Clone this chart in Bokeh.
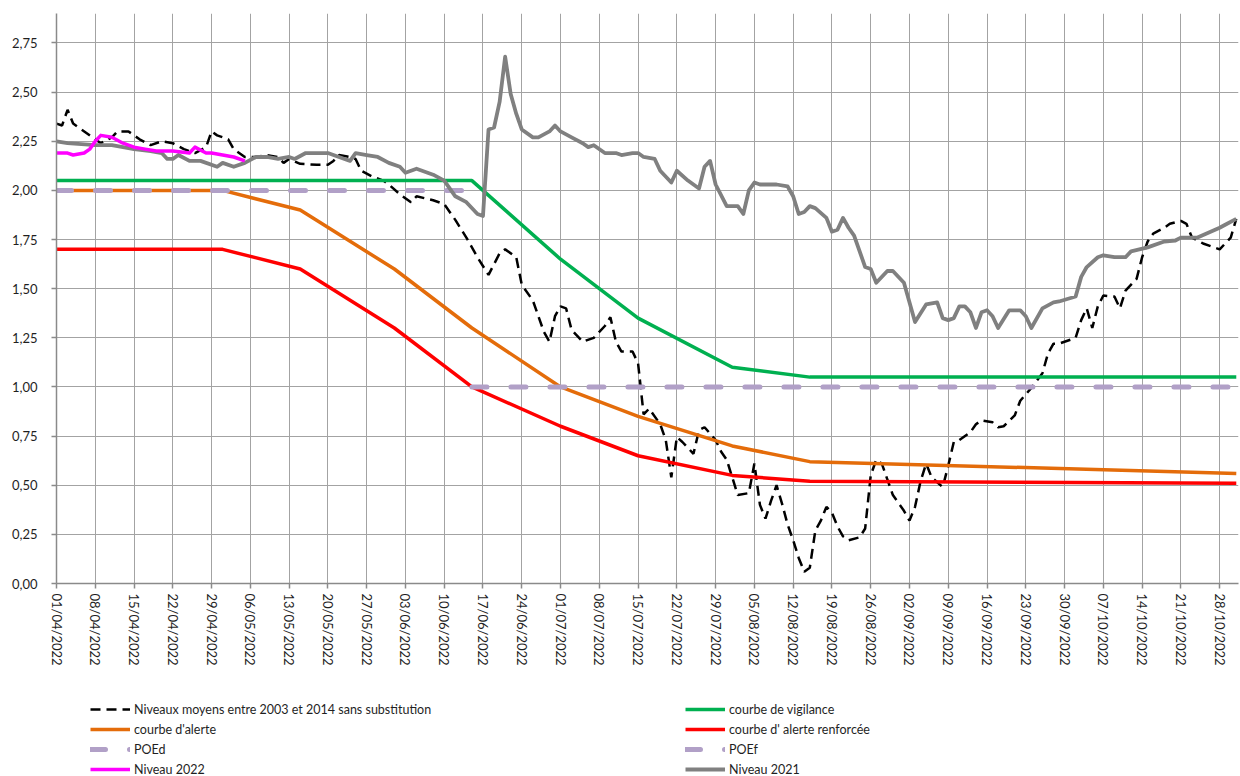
from bokeh.plotting import figure
from bokeh.layouts import column
from bokeh.models import FixedTicker, Legend, LegendItem, Range1d
from bokeh.embed import file_html
from bokeh.resources import INLINE

# ---------------- data (day index 0 = 01/04/2022) ----------------
tick_days = list(range(0, 211, 7))
tick_labels = ["01/04/2022", "08/04/2022", "15/04/2022", "22/04/2022", "29/04/2022",
               "06/05/2022", "13/05/2022", "20/05/2022", "27/05/2022", "03/06/2022",
               "10/06/2022", "17/06/2022", "24/06/2022", "01/07/2022", "08/07/2022",
               "15/07/2022", "22/07/2022", "29/07/2022", "05/08/2022", "12/08/2022",
               "19/08/2022", "26/08/2022", "02/09/2022", "09/09/2022", "16/09/2022",
               "23/09/2022", "30/09/2022", "07/10/2022", "14/10/2022", "21/10/2022",
               "28/10/2022"]
y_ticks = [0, 0.25, 0.5, 0.75, 1.0, 1.25, 1.5, 1.75, 2.0, 2.25, 2.5, 2.75]
y_tick_labels = ["0,00", "0,25", "0,50", "0,75", "1,00", "1,25", "1,50", "1,75",
                 "2,00", "2,25", "2,50", "2,75"]

# Niveaux moyens entre 2003 et 2014 sans substitution
avg_days = [0, 1, 2, 3, 4, 7, 8, 10, 11, 13, 15, 17, 19, 21, 23, 25, 27, 28, 29, 31,
            32, 34, 36, 38, 40, 41, 42, 44, 47, 49, 50, 51, 53, 54, 55, 57, 59, 60, 62, 64,
            65, 68, 70, 72, 74, 76, 78, 80, 81, 83, 84, 86, 88, 89, 90, 91, 92, 93, 95, 97,
            99, 100, 101, 102, 104, 105, 106, 107, 109, 110, 111, 112, 113, 114, 115, 116, 117, 119, 120, 121,
            122, 123, 125, 126, 127, 128, 129, 130, 131, 132, 133, 134, 135, 136, 137, 138, 139, 140, 141, 142,
            143, 145, 146, 147, 148, 149, 150, 151, 153, 154, 155, 156, 157, 158, 160, 161, 162, 163, 165, 166,
            167, 169, 170, 171, 173, 174, 176, 178, 179, 180, 181, 184, 185, 186, 187, 188, 189, 191, 192, 193,
            195, 196, 197, 198, 200, 201, 203, 204, 205, 207, 210, 211, 212, 213]
avg_vals = [2.34, 2.33, 2.41, 2.34, 2.32, 2.26, 2.24, 2.27, 2.30, 2.30, 2.26, 2.23, 2.25, 2.24, 2.21, 2.19, 2.22, 2.30, 2.28, 2.26,
            2.21, 2.17, 2.17, 2.18, 2.17, 2.14, 2.16, 2.135, 2.13, 2.13, 2.15, 2.18, 2.17, 2.16, 2.10, 2.07, 2.05, 2.03, 1.98, 1.94,
            1.97, 1.95, 1.93, 1.85, 1.76, 1.66, 1.57, 1.68, 1.70, 1.66, 1.52, 1.44, 1.28, 1.23, 1.36, 1.41, 1.40, 1.29, 1.23, 1.25,
            1.31, 1.355, 1.23, 1.18, 1.18, 1.12, 0.86, 0.89, 0.81, 0.73, 0.54, 0.745, 0.72, 0.69, 0.66, 0.78, 0.795, 0.73, 0.67, 0.63,
            0.54, 0.45, 0.46, 0.61, 0.40, 0.33, 0.42, 0.50, 0.405, 0.30, 0.22, 0.13, 0.06, 0.08, 0.27, 0.32, 0.39, 0.36, 0.29, 0.24,
            0.22, 0.235, 0.28, 0.55, 0.63, 0.61, 0.53, 0.45, 0.37, 0.32, 0.39, 0.52, 0.61, 0.54, 0.49, 0.60, 0.72, 0.73, 0.77, 0.81,
            0.83, 0.82, 0.795, 0.80, 0.855, 0.93, 0.995, 1.07, 1.17, 1.22, 1.22, 1.25, 1.34, 1.40, 1.30, 1.41, 1.465, 1.46, 1.40, 1.49,
            1.55, 1.66, 1.74, 1.78, 1.81, 1.83, 1.845, 1.83, 1.76, 1.73, 1.70, 1.73, 1.76, 1.855]

# Niveau 2021
n2021_days = [0, 2, 7, 10, 12, 14, 17, 19, 20, 21, 22, 24, 26, 29, 30, 32, 34, 36, 38, 40,
              42, 43, 45, 47, 49, 50, 52, 53, 54, 56, 58, 60, 62, 63, 65, 68, 70, 72, 74, 76,
              77, 78, 79, 80, 81, 82, 83, 84, 86, 87, 89, 90, 91, 93, 95, 96, 97, 99, 101, 102,
              104, 105, 106, 108, 109, 111, 112, 114, 115, 116, 117, 118, 119, 121, 123, 124, 125, 126, 127, 130,
              132, 133, 134, 135, 136, 137, 139, 140, 141, 142, 143, 144, 146, 147, 148, 150, 151, 153, 155, 157,
              159, 160, 161, 162, 163, 164, 165, 166, 167, 168, 169, 170, 172, 174, 175, 176, 178, 180, 181, 184,
              185, 186, 188, 189, 191, 193, 194, 197, 200, 202, 203, 206, 210, 211, 213]
n2021_vals = [2.25, 2.24, 2.23, 2.23, 2.22, 2.21, 2.20, 2.19, 2.16, 2.16, 2.18, 2.15, 2.15, 2.12, 2.14, 2.12, 2.14, 2.17, 2.17, 2.16,
              2.17, 2.16, 2.19, 2.19, 2.19, 2.18, 2.16, 2.15, 2.19, 2.18, 2.17, 2.14, 2.12, 2.09, 2.11, 2.08, 2.05, 1.97, 1.94, 1.88,
              1.87, 2.31, 2.32, 2.45, 2.68, 2.49, 2.39, 2.31, 2.27, 2.27, 2.30, 2.33, 2.30, 2.27, 2.24, 2.22, 2.23, 2.19, 2.19, 2.18,
              2.19, 2.19, 2.17, 2.16, 2.10, 2.04, 2.10, 2.05, 2.03, 2.01, 2.12, 2.15, 2.03, 1.92, 1.92, 1.88, 2.00, 2.04, 2.03, 2.03,
              2.02, 1.97, 1.88, 1.89, 1.92, 1.91, 1.86, 1.79, 1.80, 1.86, 1.81, 1.77, 1.61, 1.60, 1.53, 1.59, 1.59, 1.53, 1.33, 1.42,
              1.43, 1.35, 1.34, 1.35, 1.41, 1.41, 1.38, 1.30, 1.38, 1.39, 1.36, 1.30, 1.39, 1.39, 1.36, 1.30, 1.40, 1.43, 1.435, 1.46,
              1.56, 1.61, 1.66, 1.67, 1.66, 1.66, 1.69, 1.71, 1.74, 1.745, 1.76, 1.76, 1.81, 1.825, 1.855]

# Niveau 2022
n2022_days = [0, 2, 3, 5, 6, 7, 8, 10, 12, 14, 16, 18, 21, 24, 25, 27, 28, 30, 32, 34]
n2022_vals = [2.19, 2.19, 2.18, 2.19, 2.21, 2.25, 2.28, 2.27, 2.24, 2.22, 2.21, 2.20, 2.20, 2.19, 2.22, 2.19, 2.19, 2.18, 2.17, 2.15]

# management curves (01/04, 01/05, 15/05, 01/06, 15/06, 01/07, 15/07, 01/08, 15/08, 31/10)
curve_days = [0, 30, 44, 61, 75, 91, 105, 122, 136, 213]
vigilance = [2.05, 2.05, 2.05, 2.05, 2.05, 1.65, 1.35, 1.10, 1.05, 1.05]
alerte = [2.00, 2.00, 1.90, 1.60, 1.30, 1.00, 0.85, 0.70, 0.62, 0.56]
alerte_renf = [1.70, 1.70, 1.60, 1.30, 1.00, 0.80, 0.65, 0.55, 0.52, 0.51]

poed_days = [0, 75]
poed_vals = [2.00, 2.00]
poef_days = [75, 213]
poef_vals = [1.00, 1.00]

series_labels = ["Niveaux moyens entre 2003 et 2014 sans substitution", "courbe de vigilance",
                 "courbe d'alerte", "courbe d' alerte renforcée", "POEd", "POEf",
                 "Niveau 2022", "Niveau 2021"]

# ---------------- styles ----------------
FONT = "Lato"
TXT = "#1f1f1f"
LW = 3.5
styles = [
    dict(line_color="black", line_width=2.5, line_dash="10 6"),
    dict(line_color="#00b050", line_width=LW, line_join="round"),
    dict(line_color="#e46c0a", line_width=LW, line_join="round"),
    dict(line_color="#ff0000", line_width=LW, line_join="round"),
    dict(line_color="#b1a0c7", line_width=5, line_dash="15 24", line_cap="round"),
    dict(line_color="#b1a0c7", line_width=5, line_dash="15 24", line_cap="round"),
    dict(line_color="#ff00ff", line_width=LW, line_join="round"),
    dict(line_color="#808080", line_width=3.8, line_join="round"),
]
series = [(avg_days, avg_vals), (curve_days, vigilance), (curve_days, alerte),
          (curve_days, alerte_renf), (poed_days, poed_vals), (poef_days, poef_vals),
          (n2022_days, n2022_vals), (n2021_days, n2021_vals)]
draw_order = [0, 1, 2, 3, 4, 5, 7, 6]

# ---------------- main chart ----------------
W = 1240
H_MAIN = 683
H_LEG = 93
p = figure(width=W, height=H_MAIN, x_range=Range1d(0, 213.4), y_range=Range1d(0, 2.9),
           output_backend="svg", toolbar_location=None,
           min_border_left=56, min_border_right=2, min_border_top=13,
           min_border_bottom=H_MAIN - 13 - 570)
p.outline_line_color = None
p.background_fill_color = "white"
p.border_fill_color = "white"

GRID = "#a3a3a3"
p.xgrid.grid_line_color = GRID
p.ygrid.grid_line_color = GRID
p.xgrid.grid_line_width = 1
p.ygrid.grid_line_width = 1

p.xaxis.ticker = FixedTicker(ticks=tick_days)
p.xaxis.major_label_overrides = {d: l for d, l in zip(tick_days, tick_labels)}
p.xaxis.major_label_orientation = "vertical"
p.yaxis.ticker = FixedTicker(ticks=y_ticks)
p.yaxis.major_label_overrides = {v: l for v, l in zip(y_ticks, y_tick_labels)}

for ax in (p.xaxis[0], p.yaxis[0]):
    ax.axis_line_color = "#8a8a8a"
    ax.axis_line_width = 1.5
    ax.major_tick_line_color = "#8a8a8a"
    ax.major_tick_line_width = 1.5
    ax.major_tick_out = 5
    ax.major_tick_in = 0
    ax.minor_tick_line_color = None
    ax.major_label_text_font = FONT
    ax.major_label_text_font_size = "13px"
    ax.major_label_text_color = TXT
p.yaxis.major_label_standoff = 14
p.xaxis.major_label_standoff = 5

for i in draw_order:
    xs, ys = series[i]
    p.line(xs, ys, **styles[i])

# ---------------- legend strip ----------------
lg = figure(width=W, height=H_LEG, x_range=Range1d(0, 1), y_range=Range1d(0, 1),
            output_backend="svg", toolbar_location=None,
            min_border_left=0, min_border_right=0, min_border_top=0, min_border_bottom=0)
lg.axis.visible = False
lg.grid.visible = False
lg.outline_line_color = None
lg.background_fill_color = "white"
lg.border_fill_color = "white"

# legend-only proxies (kept outside the visible range of the strip)
proxy_x = [-5, -4]
proxy_y = [-5, -5]
proxies = [lg.line(proxy_x, proxy_y, **st) for st in styles]


def make_legend(idx, loc):
    return Legend(items=[LegendItem(label=series_labels[i], renderers=[proxies[i]]) for i in idx],
                  location=loc, orientation="vertical",
                  glyph_width=40, glyph_height=20, label_height=20, spacing=0,
                  padding=0, margin=0, label_standoff=4,
                  border_line_color=None, background_fill_alpha=0,
                  label_text_font=FONT, label_text_font_size="12.5px",
                  label_text_color=TXT)


lg.add_layout(make_legend([0, 2, 4, 6], (34, -3)), "center")
lg.add_layout(make_legend([1, 3, 5, 7], (629, -3)), "center")

layout = column(p, lg, spacing=0)
open("out.html", "w").write(file_html(layout, INLINE))
